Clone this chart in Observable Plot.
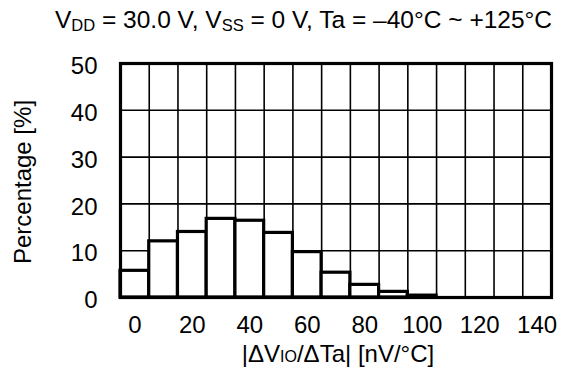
<!DOCTYPE html>
<html>
<head>
<meta charset="utf-8">
<script src="https://cdn.jsdelivr.net/npm/d3@7"></script>
<script src="https://cdn.jsdelivr.net/npm/@observablehq/plot@0.6"></script>
<style>
  html, body { margin: 0; padding: 0; background: #fff; }
  #chart svg { display: block; }
</style>
</head>
<body>
<div id="chart"></div>
<script>
// Bin centres (nV/°C) and percentages
const binCenters = [0, 10, 20, 30, 40, 50, 60, 70, 80, 90, 100];
const percentages = [5.7, 12.0, 14.0, 16.8, 16.4, 13.8, 9.7, 5.3, 2.7, 1.2, 0.4];
const binWidth = 10;
const xTicks = [0, 20, 40, 60, 80, 100, 120, 140];
const yTicks = [0, 10, 20, 30, 40, 50];
const xGrid = [5, 15, 25, 35, 45, 55, 65, 75, 85, 95, 105, 115, 125, 135];
const yGrid = [10, 20, 30, 40];

const data = binCenters.map((c, i) => ({x1: c - binWidth / 2, x2: c + binWidth / 2, y: percentages[i]}));

const font = "'Liberation Sans', Arial, Helvetica, sans-serif";

const chart = Plot.plot({
  width: 571,
  height: 374,
  marginLeft: 120,
  marginRight: 20,
  marginTop: 63,
  marginBottom: 77,
  style: {fontFamily: font, fontSize: "24px", color: "#000", background: "#fff"},
  x: {domain: [-5, 145], ticks: xTicks, label: null},
  y: {domain: [0, 50], ticks: yTicks, label: null},
  marks: [
    Plot.ruleX(xGrid, {stroke: "#000", strokeWidth: 1.6}),
    Plot.ruleY(yGrid, {stroke: "#000", strokeWidth: 1.6}),
    Plot.rectY(data, {x1: "x1", x2: "x2", y: "y", fill: "#fff", stroke: "#000", strokeWidth: 3.2}),
    Plot.frame({stroke: "#000", strokeWidth: 3.2}),
    Plot.axisX({ticks: xTicks, tickSize: 0, tickPadding: 18, label: null, fontSize: 24}),
    Plot.axisY({ticks: yTicks, tickSize: 0, tickPadding: 23, dy: 3, label: null, fontSize: 24})
  ]
});

document.getElementById("chart").appendChild(chart);

const svg = d3.select(chart);

// Title with subscripts
const title = svg.append("text")
  .attr("x", 55).attr("y", 28)
  .attr("text-anchor", "start")
  .attr("font-family", font).attr("font-size", 24.5).attr("fill", "#000");
title.append("tspan").text("V");
title.append("tspan").attr("font-size", 16.5).attr("dy", 3).text("DD");
title.append("tspan").attr("dy", -3).text(" = 30.0 V, V");
title.append("tspan").attr("font-size", 16.5).attr("dy", 3).text("SS");
title.append("tspan").attr("dy", -3).text(" = 0 V, Ta = \u201340\u00B0C ~ +125\u00B0C");

// X axis label
const xl = svg.append("text")
  .attr("x", 338).attr("y", 362)
  .attr("text-anchor", "middle")
  .attr("font-family", font).attr("font-size", 24).attr("fill", "#000");
xl.append("tspan").text("|\u0394V");
xl.append("tspan").attr("font-size", 16).text("IO");
xl.append("tspan").text("/\u0394Ta| [nV/\u00B0C]");

// Y axis label
svg.append("text")
  .attr("transform", "translate(31,182) rotate(-90)")
  .attr("text-anchor", "middle")
  .attr("font-family", font).attr("font-size", 24).attr("fill", "#000")
  .text("Percentage [%]");
</script>
</body>
</html>
